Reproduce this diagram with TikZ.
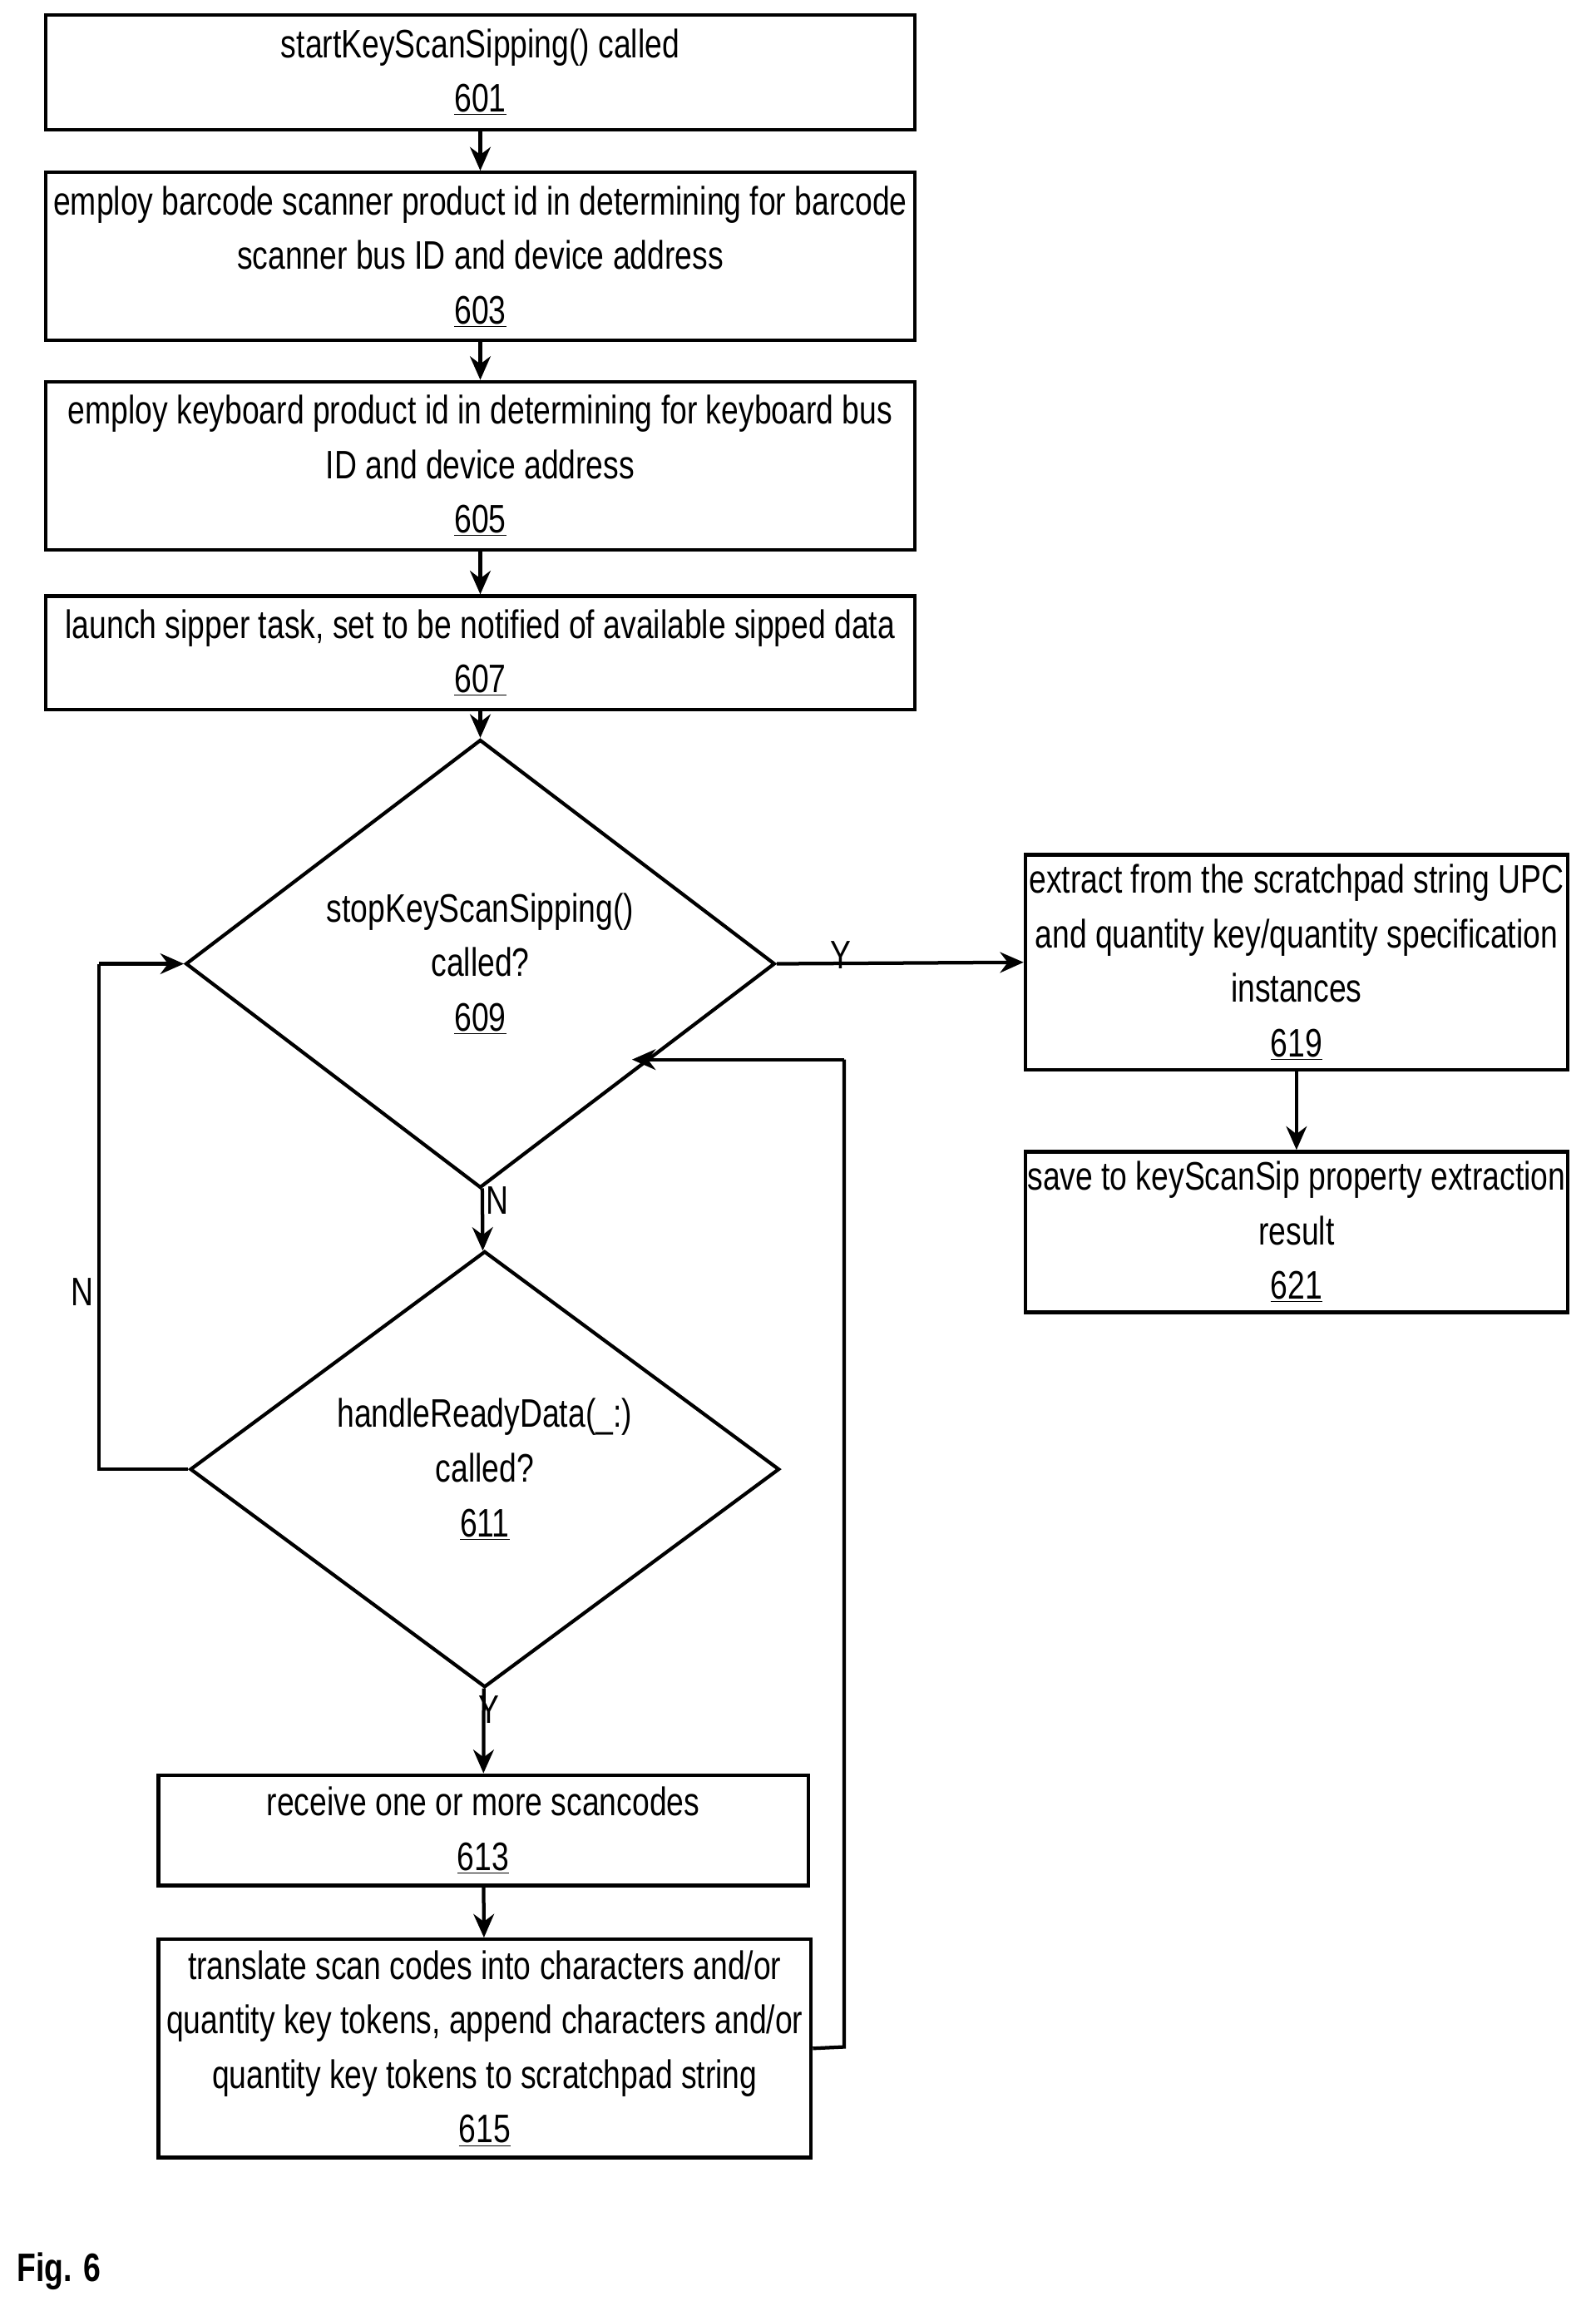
\documentclass[tikz,border=0pt]{standalone}
\usepackage{fontspec}
\setmainfont{Liberation Sans}[FakeStretch=0.78]
\usetikzlibrary{arrows.meta,shapes.geometric,positioning}

\begin{document}
\begin{tikzpicture}[x=1pt,y=-1pt,
stepbox/.style={rectangle, draw, line width=2.4pt, align=center, inner sep=0pt},
decision/.style={diamond, draw, line width=2.4pt, align=center, inner sep=0pt,
  minimum width=400pt, minimum height=268pt},
flow/.style={line width=2.4pt, arrows={-{Stealth[length=16pt,width=14pt]}}},
link/.style={line width=2.4pt},
every node/.append style={font=\fontsize{27}{37}\selectfont}]
\useasboundingbox (0,0) rectangle (1083,1575);
% Boxes
\node[stepbox, minimum width=590pt, minimum height=78pt] (s601) at (326,49)
  {startKeyScanSipping() called\\\underline{601}};
\node[stepbox, minimum width=590pt, minimum height=114pt] (s603) at (326,174)
  {employ barcode scanner product id in determining for barcode\\scanner bus ID and device address\\\underline{603}};
\node[stepbox, minimum width=590pt, minimum height=114pt] (s605) at (326,316)
  {employ keyboard product id in determining for keyboard bus\\ID and device address\\\underline{605}};
\node[stepbox, minimum width=590pt, minimum height=77pt] (s607) at (326,443)
  {launch sipper task, set to be notified of available sipped data\\\underline{607}};
\node[decision] (d609) at (326,654) {stopKeyScanSipping()\\called?\\\underline{609}};
\node[decision] (d611) at (329,997) {handleReadyData(\_:)\\called?\\\underline{611}};
\node[stepbox, minimum width=441pt, minimum height=75pt] (s613) at (328,1242)
  {receive one or more scancodes\\\underline{613}};
\node[stepbox, minimum width=443pt, minimum height=148pt] (s615) at (329,1390)
  {translate scan codes into characters and/or\\quantity key tokens, append characters and/or\\quantity key tokens to scratchpad string\\\underline{615}};
\node[stepbox, minimum width=368pt, minimum height=146pt] (s619) at (880,653)
  {extract from the scratchpad string UPC\\and quantity key/quantity specification\\instances\\\underline{619}};
\node[stepbox, minimum width=368pt, minimum height=109pt] (s621) at (880,836)
  {save to keyScanSip property extraction\\result\\\underline{621}};
\node[font=\bfseries\fontsize{27}{37}\selectfont] (fig) at (40,1541) {Fig. 6};
\coordinate (c1) at (67,997);
\coordinate (c2) at (67,654);
\coordinate (c3) at (573,1389);
\coordinate (c4) at (573,719);
\coordinate (c5) at (429,719);
% Lines
\draw[flow] (s601) -- (s603);
\draw[flow] (s603) -- (s605);
\draw[flow] (s605) -- (s607);
\draw[flow] (s607) -- (d609);
\draw[flow] (d609) -- node[pos=0.2, right=-2pt] {N} (d611);
\draw[flow] (d611) -- node[pos=0.25, right=-8pt] {Y} (s613);
\draw[flow] (s613) -- (s615);
\draw[flow] (d609.east) -- node[pos=0.26, above=-8pt] {Y} (s619.west);
\draw[flow] (s619) -- (s621);
\draw[link] (d611.west) -- (c1) -- node[pos=0.35, left=-1pt] {N} (c2);
\draw[flow] (c2) -- (d609.west);
\draw[link] (s615.east) -- (c3) -- (c4);
\draw[flow] (c4) -- (c5);
\end{tikzpicture}
\end{document}
